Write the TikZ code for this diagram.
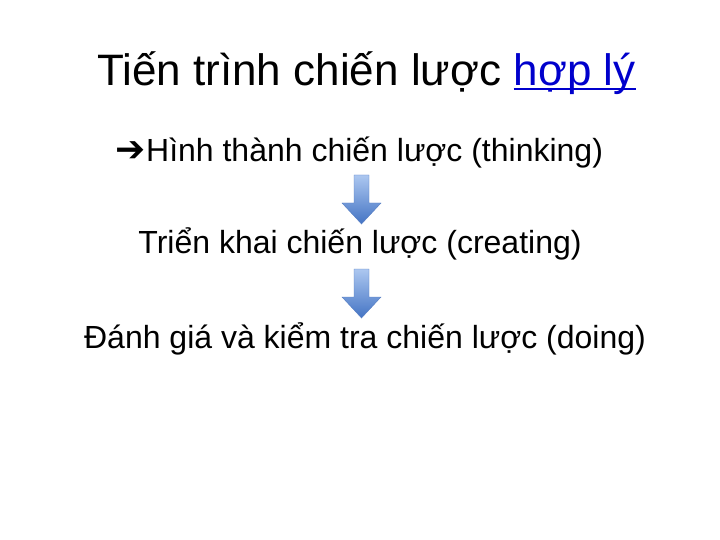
\documentclass[tikz,border=0pt]{standalone}
\usepackage{fontspec}
\setmainfont{Liberation Sans}
\newfontfamily\symfont{DejaVu Sans}
\usetikzlibrary{positioning}
\definecolor{linkblue}{RGB}{0,0,204}
\definecolor{arrowtop}{RGB}{172,199,240}
\definecolor{arrowbot}{RGB}{68,116,196}
\definecolor{arrowrim}{RGB}{84,124,194}

\begin{document}
\begin{tikzpicture}[x=1pt, y=1pt]
    \tikzset{
      heading/.style={font=\fontsize{44}{53}\selectfont, inner sep=0, anchor=base west},
      stage/.style={font=\fontsize{32}{38}\selectfont, inner sep=0, anchor=base},
      blockdown/.pic={
        \draw[arrowrim, top color=arrowtop, bottom color=arrowbot]
        (-7.5,0) -- (7.5,0) -- (7.5,-28) -- (19.5,-28) -- (0,-49)
        -- (-19.5,-28) -- (-7.5,-28) -- cycle;
      },
    }
    \useasboundingbox (0,0) rectangle (720,-540);

    \node[heading] (title) at (97,-86) {Tiến trình chiến lược};
    \node[heading, linkblue] (link) at ([xshift=12.2pt]title.base east) {hợp lý};
    \draw[linkblue, line width=2pt]
    ([yshift=-3pt]link.base west) -- ([yshift=-3pt]link.base east);

    \path
    foreach \x/\y/\name/\txt in {
      359.5/162/think/{{\symfont\fontsize{36}{38}\selectfont ➔}Hình thành chiến lược (thinking)},
      360/254/create/{Triển khai chiến lược (creating)},
      365/348/doing/{Đánh giá và kiểm tra chiến lược (doing)}
    } { (\x,-\y) node[stage] (\name) {\txt} };

    \path
    foreach \y in {175,269} { (361.5,-\y) pic{blockdown} };
  \end{tikzpicture}
\end{document}
